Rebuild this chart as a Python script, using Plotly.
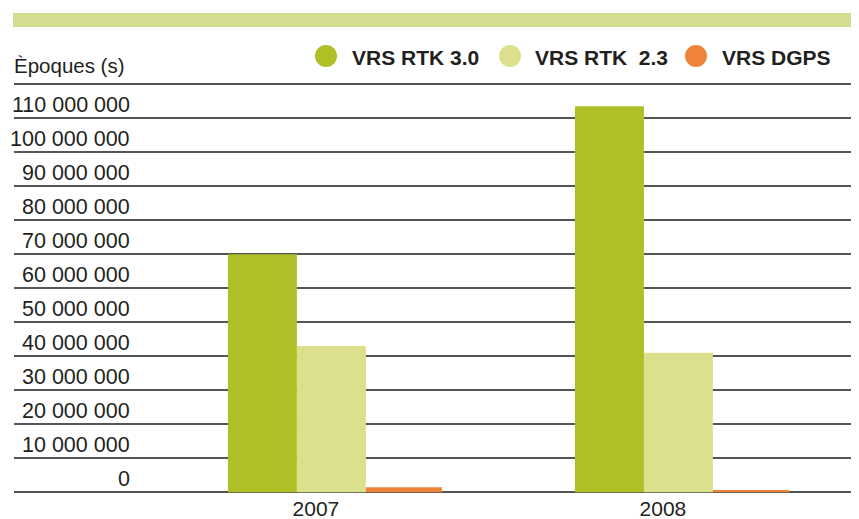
import plotly.graph_objects as go

# ---- data ----
years = ["2007", "2008"]
series_names = ["VRS RTK 3.0", "VRS RTK  2.3", "VRS DGPS"]
rtk30 = [70_000_000, 113_500_000]
rtk23 = [43_000_000, 41_000_000]
dgps = [1_500_000, 700_000]
series_values = [rtk30, rtk23, dgps]
series_colors = ["#afbf26", "#dce08d", "#f0833a"]
y_tick_values = [0, 10_000_000, 20_000_000, 30_000_000, 40_000_000, 50_000_000,
                 60_000_000, 70_000_000, 80_000_000, 90_000_000, 100_000_000, 110_000_000]
y_tick_labels = ["0", "10 000 000", "20 000 000", "30 000 000", "40 000 000", "50 000 000",
                 "60 000 000", "70 000 000", "80 000 000", "90 000 000", "100 000 000", "110 000 000"]
y_title = "Èpoques (s)"

FONT = "Liberation Sans, Arial, Helvetica, sans-serif"
TXT = "#231f20"

# bar geometry (category units)
offsets = [-0.2536, -0.0548, 0.1441]
widths = [0.1988, 0.1988, 0.219]

fig = go.Figure()
for name, vals, col, off, w in zip(series_names, series_values, series_colors, offsets, widths):
    fig.add_trace(go.Bar(x=years, y=vals, name=name, marker=dict(color=col, line=dict(width=0)),
                         offset=off, width=w, showlegend=False))

# page body has an 8px margin; the figure is sized so that it fills the window
OFF = 8
W, H = 859 - OFF, 519 - OFF
L, R, T, B = 14 - OFF, 0, 83 - OFF, 25
pw, ph = W - L - R, H - T - B

def px_x(p):
    return (p - OFF - L) / pw

def px_y(p):
    return (H - B - (p - OFF)) / ph

shapes = []
annotations = []

# top band
shapes.append(dict(type="rect", xref="paper", yref="paper", x0=px_x(13), x1=1.0,
                   y0=px_y(27), y1=px_y(13), fillcolor="#d4dc90", line=dict(width=0), layer="below"))

# y tick labels (right aligned, above gridlines)
for v, lab in zip(y_tick_values, y_tick_labels):
    annotations.append(dict(xref="paper", yref="y", x=px_x(132), y=v, text=lab, showarrow=False,
                            xanchor="right", yanchor="middle", yshift=13,
                            font=dict(family=FONT, size=21.5, color=TXT)))

# y title
annotations.append(dict(xref="paper", yref="paper", x=px_x(12), y=px_y(65), text=y_title,
                        showarrow=False, xanchor="left", yanchor="middle",
                        font=dict(family=FONT, size=20.5, color=TXT)))

# legend (manual: circles + bold text)
circle_px = [326, 510, 696]
text_px = [350, 533, 720]
for name, col, cx, tx in zip(series_names, series_colors, circle_px, text_px):
    shapes.append(dict(type="circle", xref="paper", yref="paper", xsizemode="pixel", ysizemode="pixel",
                       xanchor=px_x(cx), yanchor=px_y(56), x0=-11, x1=11, y0=-11, y1=11,
                       fillcolor=col, line=dict(width=0)))
    annotations.append(dict(xref="paper", yref="paper", x=px_x(tx), y=px_y(57),
                            text="<b>" + name.replace("  ", "&nbsp; ") + "</b>",
                            showarrow=False, xanchor="left", yanchor="middle",
                            font=dict(family=FONT, size=21, color=TXT)))

fig.update_layout(
    width=W, height=H,
    margin=dict(l=L, r=R, t=T, b=B, pad=0),
    paper_bgcolor="white", plot_bgcolor="white",
    barmode="overlay",
    showlegend=False,
    shapes=shapes,
    annotations=annotations,
    xaxis=dict(type="category", range=[-0.870, 1.565], showgrid=False, zeroline=False,
               showline=False, ticks="", tickfont=dict(family=FONT, size=21, color=TXT)),
    yaxis=dict(range=[-0.5e6, 120.3e6], tickvals=y_tick_values + [120_000_000], showticklabels=False,
               showgrid=True, gridcolor="#555555", gridwidth=1.5, zeroline=False, showline=False, ticks=""),
)

fig.write_html("out.html")
